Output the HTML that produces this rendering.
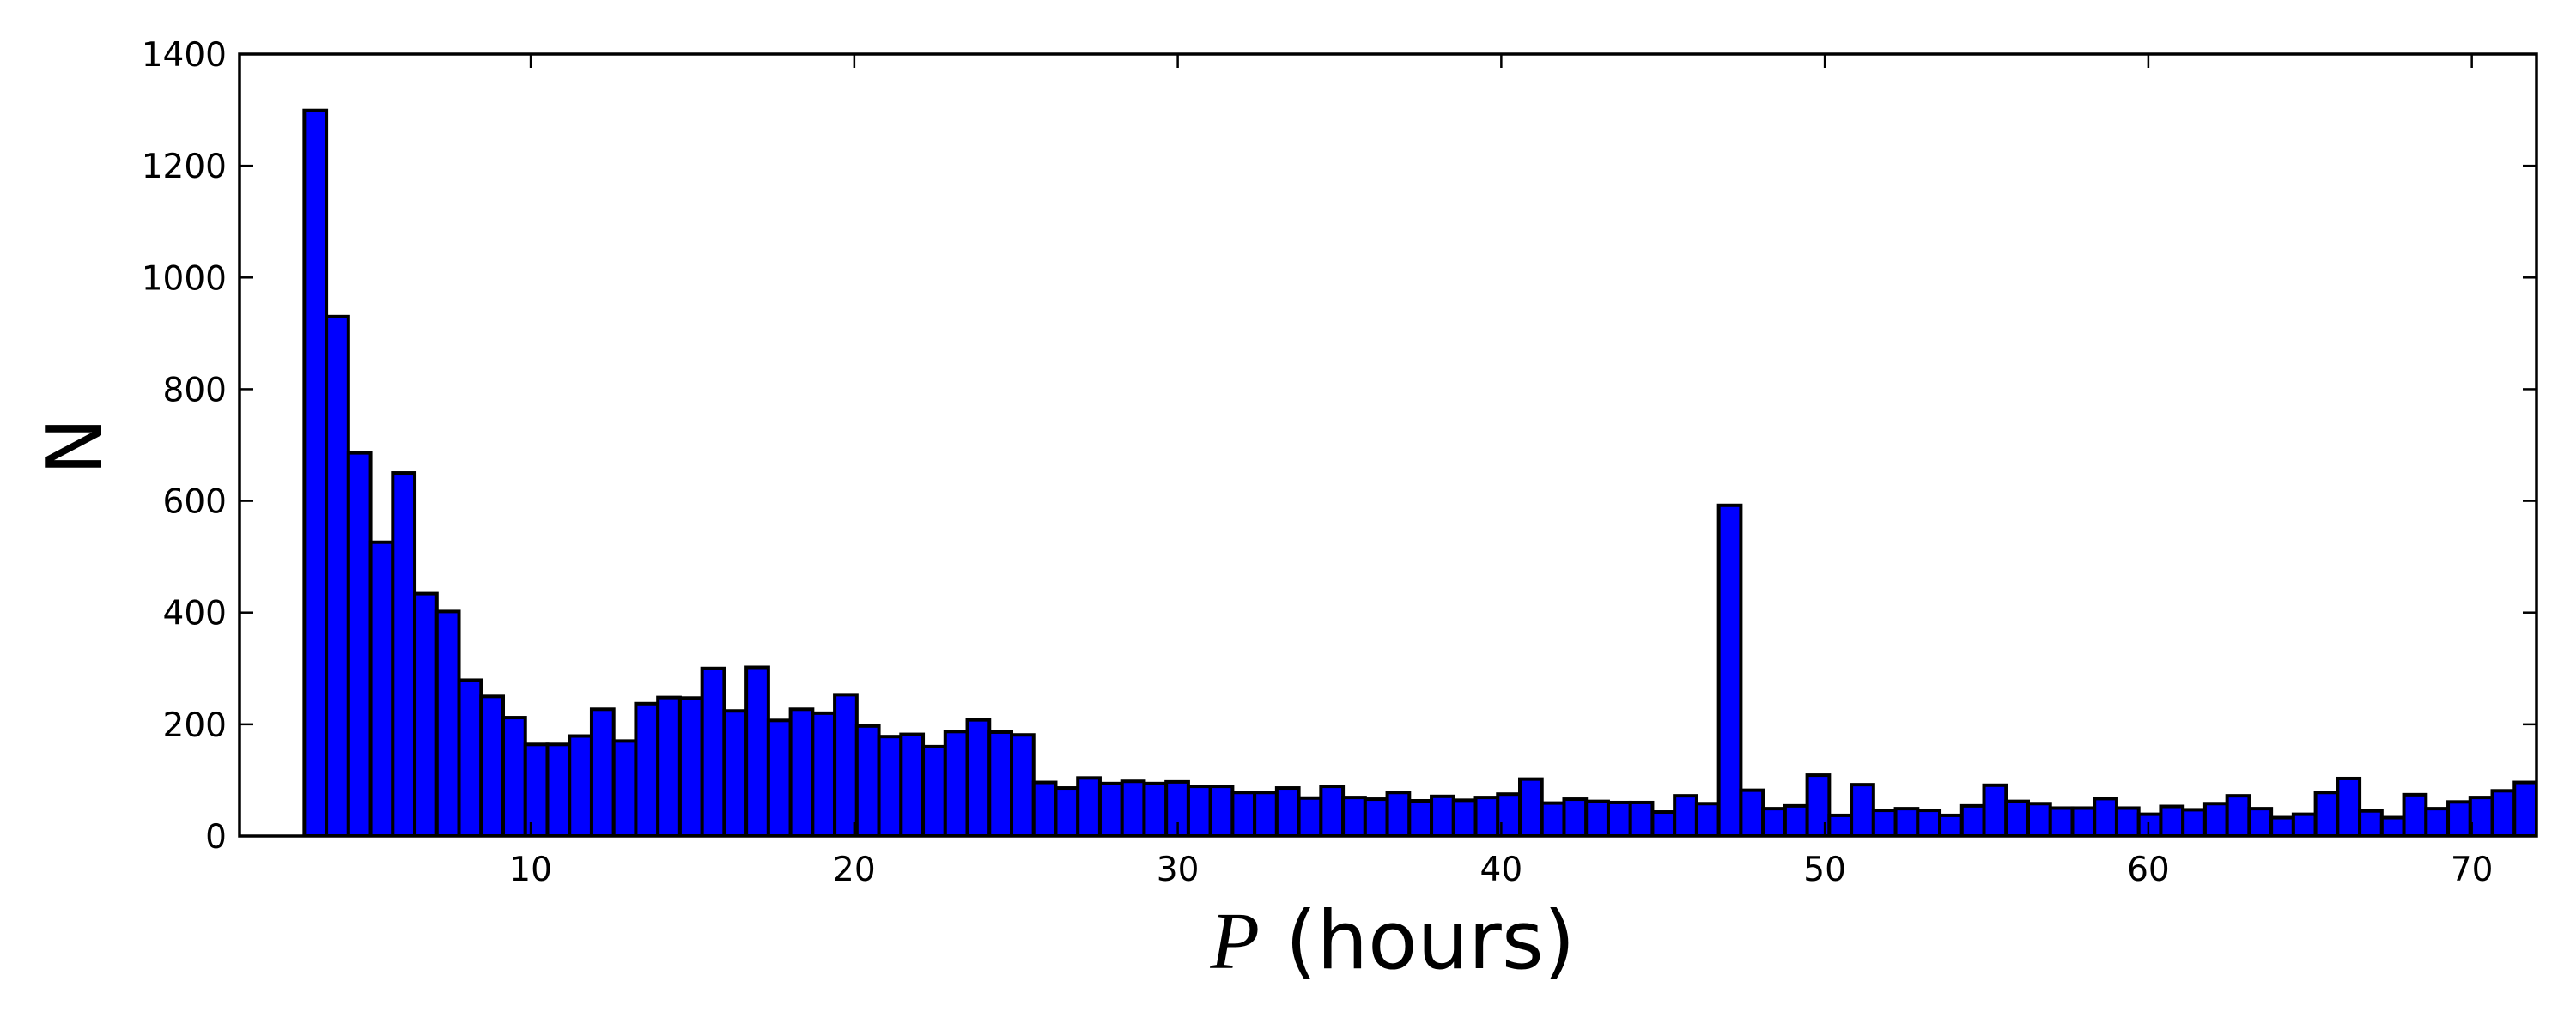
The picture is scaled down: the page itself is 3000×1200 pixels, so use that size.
<!DOCTYPE html>
<html><head><meta charset="utf-8"><style>
html,body{margin:0;padding:0;background:#fff;}
svg{display:block;font-family:"DejaVu Sans","Liberation Sans",sans-serif;}
</style></head><body>
<svg id="chart" width="3000" height="1200" viewBox="0 0 3000 1200" xmlns="http://www.w3.org/2000/svg">
<defs><clipPath id="plotclip"><rect x="279" y="63" width="2675" height="911"/></clipPath></defs>
<g id="bars" clip-path="url(#plotclip)"></g>
<g id="axes"></g>
<text x="0" y="0" transform="translate(118,520) rotate(-90)" text-anchor="middle" font-size="90">N</text>
<text x="1622" y="1128" text-anchor="middle" font-size="94"><tspan font-family="'Liberation Serif',serif" font-style="italic">P</tspan> (hours)</text>
</svg>
<script>
const binStart = 3;
const binEnd = 72;
const counts = [1299,930,686,526,650,434,402,279,250,212,164,164,179,227,170,237,248,247,300,224,302,207,227,220,253,197,178,182,160,187,208,186,181,96,86,104,94,98,94,97,89,89,78,78,86,68,89,69,66,78,63,71,64,69,75,102,59,66,62,60,60,43,72,58,592,82,49,54,109,37,92,46,49,46,37,54,91,62,58,50,50,67,50,39,53,47,58,72,49,33,39,78,103,45,33,74,49,61,69,81,96];
const xTicks = [10,20,30,40,50,60,70];
const yTicks = [0,200,400,600,800,1000,1200,1400];
const xDomain = [1,72];
const yDomain = [0,1400];

const L=279,R=2954,T=63,B=974;
const NS="http://www.w3.org/2000/svg";
function xs(v){return L+(v-xDomain[0])/(xDomain[1]-xDomain[0])*(R-L);}
function ys(v){return B-(v-yDomain[0])/(yDomain[1]-yDomain[0])*(B-T);}
function mk(tag,attrs,parent){const e=document.createElementNS(NS,tag);for(const k in attrs)e.setAttribute(k,attrs[k]);parent.appendChild(e);return e;}

const bars=document.getElementById('bars');
const w=(binEnd-binStart)/counts.length;
counts.forEach((c,i)=>{
  const x0=xs(binStart+i*w),x1=xs(binStart+(i+1)*w);
  const r=mk('rect',{x:x0,y:ys(c),width:x1-x0,height:ys(0)-ys(c),fill:'#0000ff',stroke:'#000','stroke-width':4},bars);
  
  
});

const ax=document.getElementById('axes');
const frame=mk('rect',{x:L,y:T,width:R-L,height:B-T,fill:'none',stroke:'#000','stroke-width':3.5},ax);


xTicks.forEach(v=>{
  const x=xs(v);
  const t1=mk('line',{x1:x,x2:x,y1:B,y2:B-16,stroke:'#000','stroke-width':2.5},ax);
  
  
  const t2=mk('line',{x1:x,x2:x,y1:T,y2:T+16,stroke:'#000','stroke-width':2.5},ax);
  
  
  const lb=mk('text',{x:x,y:1026,'text-anchor':'middle','font-size':39},ax);
  lb.textContent=v;
  
  
});
yTicks.forEach(v=>{
  const y=ys(v);
  const t1=mk('line',{x1:L,x2:L+16,y1:y,y2:y,stroke:'#000','stroke-width':2.5},ax);
  
  
  const t2=mk('line',{x1:R,x2:R-16,y1:y,y2:y,stroke:'#000','stroke-width':2.5},ax);
  
  
  const lb=mk('text',{x:264,y:y+14,'text-anchor':'end','font-size':39},ax);
  lb.textContent=v;
  
  
});
</script>
</body></html>
